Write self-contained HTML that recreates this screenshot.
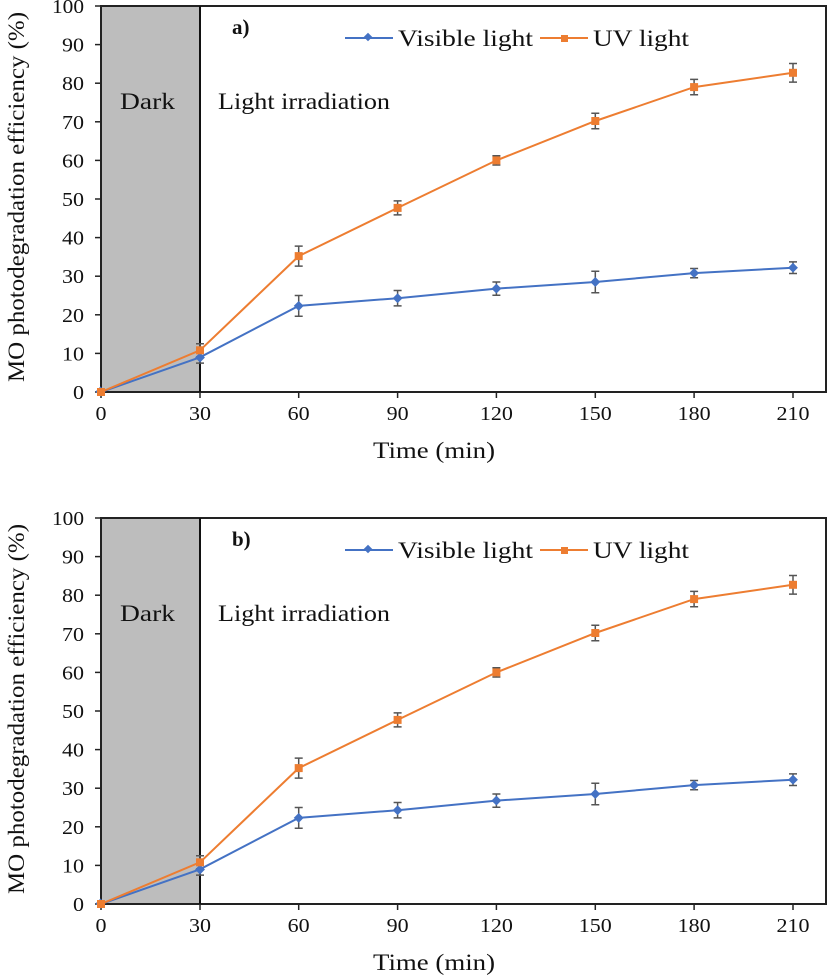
<!DOCTYPE html>
<html><head><style>body{margin:0;background:#fff}svg{display:block}text{font-family:"Liberation Serif",serif;fill:#111}</style></head>
<body>
<svg width="831" height="975" viewBox="0 0 831 975" xmlns="http://www.w3.org/2000/svg">
<defs>
<g id="chart">
<rect x="101" y="6" width="99" height="386" fill="#bdbdbd"/>
<rect x="101" y="6" width="725" height="386" fill="none" stroke="#222" stroke-width="2"/>
<line x1="200" y1="6" x2="200" y2="392" stroke="#111" stroke-width="2"/>
<g stroke="#222" stroke-width="1.5">
<line x1="95" y1="392" x2="101" y2="392"/><line x1="95" y1="353.4" x2="101" y2="353.4"/><line x1="95" y1="314.8" x2="101" y2="314.8"/><line x1="95" y1="276.2" x2="101" y2="276.2"/><line x1="95" y1="237.6" x2="101" y2="237.6"/><line x1="95" y1="199" x2="101" y2="199"/><line x1="95" y1="160.4" x2="101" y2="160.4"/><line x1="95" y1="121.8" x2="101" y2="121.8"/><line x1="95" y1="83.2" x2="101" y2="83.2"/><line x1="95" y1="44.6" x2="101" y2="44.6"/><line x1="95" y1="6" x2="101" y2="6"/>
<line x1="101" y1="392" x2="101" y2="398"/><line x1="200" y1="392" x2="200" y2="398"/><line x1="298.7" y1="392" x2="298.7" y2="398"/><line x1="397.6" y1="392" x2="397.6" y2="398"/><line x1="496.4" y1="392" x2="496.4" y2="398"/><line x1="595.3" y1="392" x2="595.3" y2="398"/><line x1="694.1" y1="392" x2="694.1" y2="398"/><line x1="793" y1="392" x2="793" y2="398"/>
</g>
<g font-size="20" text-anchor="end" lengthAdjust="spacingAndGlyphs">
<text x="84" y="399" textLength="11" lengthAdjust="spacingAndGlyphs">0</text>
<text x="84" y="360.4" textLength="22" lengthAdjust="spacingAndGlyphs">10</text>
<text x="84" y="321.8" textLength="22" lengthAdjust="spacingAndGlyphs">20</text>
<text x="84" y="283.2" textLength="22" lengthAdjust="spacingAndGlyphs">30</text>
<text x="84" y="244.6" textLength="22" lengthAdjust="spacingAndGlyphs">40</text>
<text x="84" y="206" textLength="22" lengthAdjust="spacingAndGlyphs">50</text>
<text x="84" y="167.4" textLength="22" lengthAdjust="spacingAndGlyphs">60</text>
<text x="84" y="128.8" textLength="22" lengthAdjust="spacingAndGlyphs">70</text>
<text x="84" y="90.2" textLength="22" lengthAdjust="spacingAndGlyphs">80</text>
<text x="84" y="51.6" textLength="22" lengthAdjust="spacingAndGlyphs">90</text>
<text x="84" y="13" textLength="32" lengthAdjust="spacingAndGlyphs">100</text>
</g>
<g font-size="20" text-anchor="middle">
<text x="101" y="420" textLength="11" lengthAdjust="spacingAndGlyphs">0</text>
<text x="200" y="420" textLength="22" lengthAdjust="spacingAndGlyphs">30</text>
<text x="298.7" y="420" textLength="22" lengthAdjust="spacingAndGlyphs">60</text>
<text x="397.6" y="420" textLength="22" lengthAdjust="spacingAndGlyphs">90</text>
<text x="496.4" y="420" textLength="33" lengthAdjust="spacingAndGlyphs">120</text>
<text x="595.3" y="420" textLength="33" lengthAdjust="spacingAndGlyphs">150</text>
<text x="694.1" y="420" textLength="33" lengthAdjust="spacingAndGlyphs">180</text>
<text x="793" y="420" textLength="33" lengthAdjust="spacingAndGlyphs">210</text>
</g>
<text x="434" y="458" font-size="23" text-anchor="middle" textLength="122" lengthAdjust="spacingAndGlyphs">Time (min)</text>
<text transform="translate(24,197) rotate(-90)" font-size="23" text-anchor="middle" textLength="370" lengthAdjust="spacingAndGlyphs">MO photodegradation efficiency (%)</text>
<text x="120" y="109" font-size="23" textLength="55" lengthAdjust="spacingAndGlyphs">Dark</text>
<text x="218" y="109" font-size="23" textLength="172" lengthAdjust="spacingAndGlyphs">Light irradiation</text>
<line x1="345" y1="38" x2="393" y2="38" stroke="#4472C4" stroke-width="2"/>
<rect x="365" y="34" width="6" height="6" fill="#4472C4" transform="rotate(45 368 37)"/>
<text x="398" y="46" font-size="23" textLength="135" lengthAdjust="spacingAndGlyphs">Visible light</text>
<line x1="540" y1="38" x2="588" y2="38" stroke="#ED7D31" stroke-width="2"/>
<rect x="561" y="35" width="7" height="7" fill="#ED7D31"/>
<text x="593" y="46" font-size="23" textLength="96" lengthAdjust="spacingAndGlyphs">UV light</text>
<g stroke="#555" stroke-width="1.5" fill="none">
<path d="M200,351.5V363.1M196,351.5H204M196,363.1H204
M298.7,295.5V316.3M294.7,295.5H302.7M294.7,316.3H302.7
M397.6,290.5V305.9M393.6,290.5H401.6M393.6,305.9H401.6
M496.4,282V295.2M492.4,282H500.4M492.4,295.2H500.4
M595.3,271.2V292.8M591.3,271.2H599.3M591.3,292.8H599.3
M694.1,268.5V277.7M690.1,268.5H698.1M690.1,277.7H698.1
M793,261.9V273.5M789,261.9H797M789,273.5H797
M200,343.7V356.9M196,343.7H204M196,356.9H204
M298.7,246.1V266.1M294.7,246.1H302.7M294.7,266.1H302.7
M397.6,200.9V214.9M393.6,200.9H401.6M393.6,214.9H401.6
M496.4,155.8V165M492.4,155.8H500.4M492.4,165H500.4
M595.3,113.3V128.7M591.3,113.3H599.3M591.3,128.7H599.3
M694.1,79.4V94.8M690.1,79.4H698.1M690.1,94.8H698.1
M793,63.5V82.1M789,63.5H797M789,82.1H797"/>
</g>
<polyline points="101,392 200,357.3 298.7,305.9 397.6,298.2 496.4,288.6 595.3,282 694.1,273.1 793,267.7" fill="none" stroke="#4472C4" stroke-width="2"/>
<polyline points="101,392 200,350.3 298.7,256.1 397.6,207.9 496.4,160.4 595.3,121 694.1,87.1 793,72.8" fill="none" stroke="#ED7D31" stroke-width="2"/>
<g fill="#4472C4">
<rect x="97" y="388" width="7" height="7" transform="rotate(45 100.5 391.5)"/>
<rect x="196.5" y="354" width="7" height="7" transform="rotate(45 200 357.5)"/>
<rect x="295.2" y="302.4" width="7" height="7" transform="rotate(45 298.7 305.9)"/>
<rect x="394.1" y="294.7" width="7" height="7" transform="rotate(45 397.6 298.2)"/>
<rect x="492.9" y="285.1" width="7" height="7" transform="rotate(45 496.4 288.6)"/>
<rect x="591.8" y="278.5" width="7" height="7" transform="rotate(45 595.3 282)"/>
<rect x="690.6" y="269.6" width="7" height="7" transform="rotate(45 694.1 273.1)"/>
<rect x="789.5" y="264.2" width="7" height="7" transform="rotate(45 793 267.7)"/>
</g>
<g fill="#ED7D31">
<rect x="97" y="388" width="8" height="8"/>
<rect x="196" y="346.3" width="8" height="8"/>
<rect x="294.7" y="252.1" width="8" height="8"/>
<rect x="393.6" y="203.9" width="8" height="8"/>
<rect x="492.4" y="156.4" width="8" height="8"/>
<rect x="591.3" y="117" width="8" height="8"/>
<rect x="690.1" y="83.1" width="8" height="8"/>
<rect x="789" y="68.8" width="8" height="8"/>
</g>
</g>
</defs>
<use href="#chart"/>
<text x="232" y="34" font-size="21" font-weight="bold">a)</text>
<g transform="translate(0,512)"><use href="#chart"/></g>
<text x="232" y="546" font-size="21" font-weight="bold">b)</text>
</svg>
</body></html>
